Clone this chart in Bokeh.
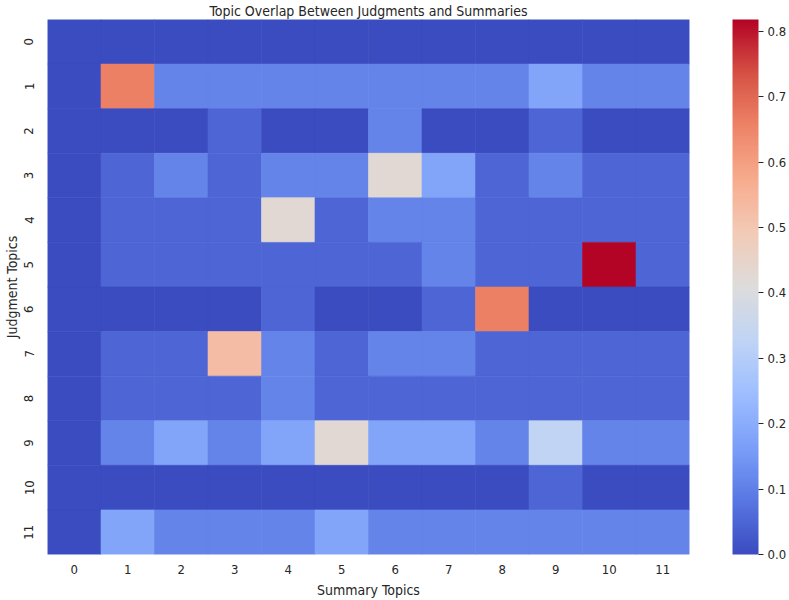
import numpy as np
from bokeh.plotting import figure
from bokeh.models import (ColumnDataSource, LinearColorMapper, ColorBar, FixedTicker,
                          PrintfTickFormatter, Range1d)
from bokeh.transform import transform
from bokeh.embed import file_html
from bokeh.resources import INLINE

# ---- data: overlap between judgment topics (rows) and summary topics (cols) ----
summary_topics = [str(i) for i in range(12)]
judgment_topics = [str(i) for i in range(12)]

j0 = [0.0, 0.0, 0.0, 0.0, 0.0, 0.0, 0.0, 0.0, 0.0, 0.0, 0.0, 0.0]
j1 = [0.0, 0.66, 0.11, 0.11, 0.11, 0.11, 0.11, 0.11, 0.11, 0.18, 0.11, 0.11]
j2 = [0.0, 0.0, 0.0, 0.05, 0.0, 0.0, 0.11, 0.0, 0.0, 0.05, 0.0, 0.0]
j3 = [0.0, 0.05, 0.11, 0.05, 0.11, 0.11, 0.43, 0.18, 0.05, 0.11, 0.05, 0.05]
j4 = [0.0, 0.05, 0.05, 0.05, 0.43, 0.05, 0.11, 0.11, 0.05, 0.05, 0.05, 0.05]
j5 = [0.0, 0.05, 0.05, 0.05, 0.05, 0.05, 0.05, 0.11, 0.05, 0.05, 0.818, 0.05]
j6 = [0.0, 0.0, 0.0, 0.0, 0.05, 0.0, 0.0, 0.05, 0.66, 0.0, 0.0, 0.0]
j7 = [0.0, 0.05, 0.05, 0.53, 0.11, 0.05, 0.11, 0.11, 0.05, 0.05, 0.05, 0.05]
j8 = [0.0, 0.05, 0.05, 0.05, 0.11, 0.05, 0.05, 0.05, 0.05, 0.05, 0.05, 0.05]
j9 = [0.0, 0.11, 0.18, 0.11, 0.18, 0.43, 0.18, 0.18, 0.11, 0.33, 0.11, 0.11]
j10 = [0.0, 0.0, 0.0, 0.0, 0.0, 0.0, 0.0, 0.0, 0.0, 0.05, 0.0, 0.0]
j11 = [0.0, 0.18, 0.11, 0.11, 0.11, 0.18, 0.11, 0.11, 0.11, 0.11, 0.11, 0.11]

rows = [j0, j1, j2, j3, j4, j5, j6, j7, j8, j9, j10, j11]
colorbar_ticks = [0.0, 0.1, 0.2, 0.3, 0.4, 0.5, 0.6, 0.7, 0.8]

# ---- coolwarm palette (interpolated from anchor colours) ----
anchors = ["#3b4cc0", "#5977e3", "#7b9ff9", "#9ebeff", "#c0d4f5", "#dddcdc",
           "#f2cbb7", "#f7ac8e", "#ee8468", "#d65244", "#b40426"]
anc = np.array([[int(h[i:i + 2], 16) for i in (1, 3, 5)] for h in anchors], float)
pos = np.linspace(0, 1, len(anchors))
palette = []
for t in np.linspace(0, 1, 256):
    rgb = [np.interp(t, pos, anc[:, k]) for k in range(3)]
    palette.append("#%02x%02x%02x" % tuple(int(round(v)) for v in rgb))

xs, ys, vals = [], [], []
for r, row in enumerate(rows):
    for c, v in enumerate(row):
        xs.append(c + 0.5)
        ys.append(r + 0.5)
        vals.append(v)
src = ColumnDataSource(dict(x=xs, y=ys, val=vals))

vmax = max(max(r) for r in rows)
mapper = LinearColorMapper(palette=palette, low=0.0, high=vmax)

FONT = "'DejaVu Sans Condensed', 'Liberation Sans Narrow', 'DejaVu Sans', sans-serif"

p = figure(width=789, height=600, output_backend="svg", toolbar_location=None,
           x_range=Range1d(0, 12), y_range=Range1d(12, 0),
           title="Topic Overlap Between Judgments and Summaries",
           min_border_left=46, min_border_right=99, min_border_top=19,
           min_border_bottom=46)

p.rect(x="x", y="y", width=1, height=1, source=src,
       fill_color=transform("val", mapper), line_color=transform("val", mapper),
       line_width=0.6)

p.title.align = "center"
p.title.text_font = FONT
p.title.text_font_size = "14px"
p.title.text_font_style = "normal"
p.title.text_color = "#262626"
p.title.standoff = 1
p.title.offset = 0

p.xgrid.visible = False
p.ygrid.visible = False
p.outline_line_color = None

for ax, labels in ((p.xaxis[0], summary_topics), (p.yaxis[0], judgment_topics)):
    ax.ticker = FixedTicker(ticks=[i + 0.5 for i in range(12)])
    ax.major_label_overrides = {i + 0.5: lab for i, lab in enumerate(labels)}
    ax.major_tick_line_color = None
    ax.minor_tick_line_color = None
    ax.axis_line_color = None
    ax.major_label_text_font = FONT
    ax.major_label_text_font_size = "13px"
    ax.major_label_text_color = "#262626"
    ax.axis_label_text_font = FONT
    ax.axis_label_text_font_size = "14px"
    ax.axis_label_text_font_style = "normal"
    ax.axis_label_text_color = "#262626"

p.xaxis.axis_label = "Summary Topics"
p.yaxis.axis_label = "Judgment Topics"
p.xaxis.major_label_standoff = 4
p.xaxis.axis_label_standoff = 5
p.yaxis.major_label_orientation = "vertical"
p.yaxis.major_label_standoff = 8
p.yaxis.axis_label_standoff = 2

cb = ColorBar(color_mapper=mapper, width=26, height=535, padding=0, margin=0,
              ticker=FixedTicker(ticks=colorbar_ticks),
              formatter=PrintfTickFormatter(format="%.1f"),
              major_tick_in=0, major_tick_out=5, major_tick_line_color="#262626",
              minor_tick_line_color=None, bar_line_color=None,
              border_line_color=None, background_fill_color=None,
              major_label_text_font=FONT, major_label_text_font_size="13px",
              major_label_text_color="#262626", label_standoff=4,
              location=(43, 0))
p.add_layout(cb, "right")

open("out.html", "w").write(file_html(p, INLINE))
